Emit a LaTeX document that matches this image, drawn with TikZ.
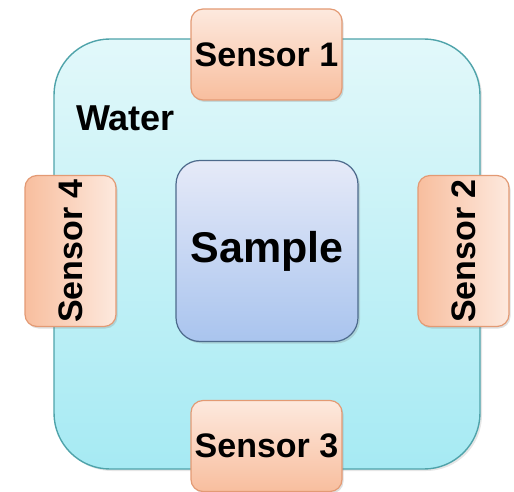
\documentclass[tikz,border=0pt]{standalone}
\usepackage{fontspec}
\setmainfont{Liberation Sans}
\usetikzlibrary{shadows}

\definecolor{waterline}{HTML}{4FA3AA}
\definecolor{watertop}{HTML}{E2F8FA}
\definecolor{waterbot}{HTML}{A6EAF3}
\definecolor{sensorline}{HTML}{E39A74}
\definecolor{sensorlight}{HTML}{FDE9DE}
\definecolor{sensordark}{HTML}{F8BE9E}
\definecolor{sampleline}{HTML}{4D6A8C}
\definecolor{sampletop}{HTML}{E6EAF8}
\definecolor{samplebot}{HTML}{A9C4EE}

\tikzset{
  sensor/.style={draw=sensorline, line width=1.2pt, rounded corners=12pt,
    top color=sensorlight, bottom color=sensordark,
    minimum width=151pt, minimum height=91pt, inner sep=0pt,
    font=\fontsize{34}{38}\selectfont\bfseries,
    drop shadow={shadow xshift=1.5pt, shadow yshift=-2pt, opacity=0.25}},
  sidesensor/.style={sensor, rotate=90,
    left color=sensordark, right color=sensorlight},
}

\begin{document}
\begin{tikzpicture}[x=1pt, y=-1pt]
  \useasboundingbox (0,0) rectangle (514,492);

  % water tank
  \node[draw=waterline, line width=1.4pt, rounded corners=56pt,
        top color=watertop, bottom color=waterbot,
        minimum width=426pt, minimum height=430pt,
        drop shadow={shadow xshift=2pt, shadow yshift=-2pt, opacity=0.2}]
        (water) at (267,254) {};
  \node[font=\fontsize{36}{40}\selectfont\bfseries, anchor=west, inner sep=0pt] (wlabel) at (76,118) {Water};

  % sample in the middle
  \node[draw=sampleline, line width=1.2pt, rounded corners=24pt,
        top color=sampletop, bottom color=samplebot,
        minimum width=182pt, minimum height=181pt,
        font=\fontsize{43}{48}\selectfont\bfseries,
        drop shadow={shadow xshift=2pt, shadow yshift=-2pt, opacity=0.25}]
        (sample) at (267,251) {Sample};

  % sensors round the tank
  \node[sensor] (s1) at (266.5,54.5) {Sensor 1};
  \node[sidesensor] (s2) at (463.5,251) {Sensor 2};
  \node[sensor] (s3) at (266.5,446) {Sensor 3};
  \node[sidesensor] (s4) at (70.5,251) {Sensor 4};
\end{tikzpicture}
\end{document}
